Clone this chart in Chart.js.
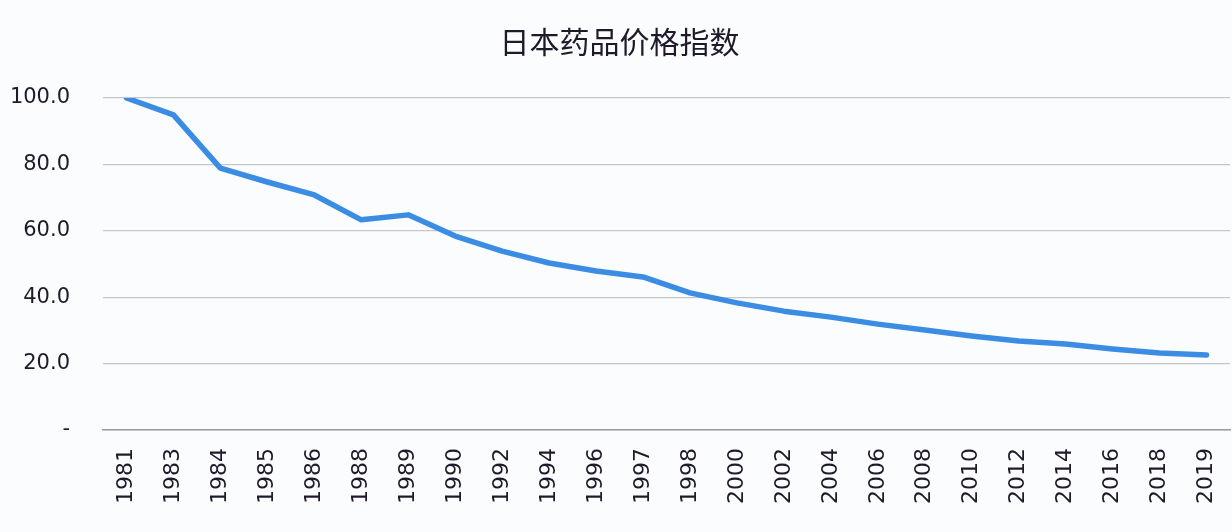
<!DOCTYPE html>
<html>
<head>
<meta charset="utf-8">
<script src="https://cdn.jsdelivr.net/npm/chart.js@4"></script>
<style>
  html, body { margin: 0; padding: 0; background: #fbfcfe; }
  #wrap { width: 1232px; height: 532px; }
</style>
</head>
<body>
<div id="wrap"><canvas id="priceChart"></canvas></div>
<script>
const years = ['1981','1983','1984','1985','1986','1988','1989','1990','1992','1994','1996','1997',
               '1998','2000','2002','2004','2006','2008','2010','2012','2014','2016','2018','2019'];
const priceIndex = [100.0, 94.9, 78.9, 74.7, 70.8, 63.3, 64.8, 58.4, 53.9, 50.3, 47.9, 46.1,
                    41.3, 38.3, 35.8, 34.0, 31.9, 30.1, 28.3, 26.8, 25.9, 24.4, 23.2, 22.6];

const ctx = document.getElementById('priceChart');

new Chart(ctx, {
    type: 'line',
    data: {
        labels: years,
        datasets: [{
            label: '日本药品价格指数',
            data: priceIndex,
            borderColor: '#3b8de3',
            borderWidth: 5.5,
            pointRadius: 0,
            tension: 0,
            borderCapStyle: 'round',
            borderJoinStyle: 'round',
        }]
    },
    options: {
        responsive: true,
        maintainAspectRatio: false,
        animation: false,
        layout: { padding: { left: 9, right: 2, top: 0, bottom: 10 } },
        plugins: {
            legend: { display: false },
            tooltip: { enabled: false },
            title: {
                display: true,
                text: '日本药品价格指数',
                color: '#1e1a2a',
                font: { family: "'Noto Sans CJK SC', sans-serif", size: 30, weight: 'normal' },
                padding: { top: 24, bottom: 38 },
            },
        },
        scales: {
            x: {
                offset: true,
                grid: { display: false, drawTicks: false },
                border: { display: true, color: '#9a9ca3', width: 1.5 },
                afterFit: scale => { scale.paddingLeft = 0; scale.paddingRight = 0; },
                ticks: {
                    autoSkip: false,
                    minRotation: 90,
                    maxRotation: 90,
                    padding: 18,
                    color: '#1e1a2a',
                    font: { family: "'DejaVu Sans', sans-serif", size: 22 },
                }
            },
            y: {
                min: 0,
                max: 100,
                grid: { color: '#c4c6cb', lineWidth: 1.2, drawTicks: false },
                border: { display: false },
                afterFit: scale => { scale.width = 94; },
                ticks: {
                    stepSize: 20,
                    padding: 33,
                    color: '#1e1a2a',
                    font: { family: "'DejaVu Sans', sans-serif", size: 21 },
                    callback: val => val === 0 ? '-' : val.toFixed(1),
                }
            }
        },
    }
});
</script>
</body>
</html>
